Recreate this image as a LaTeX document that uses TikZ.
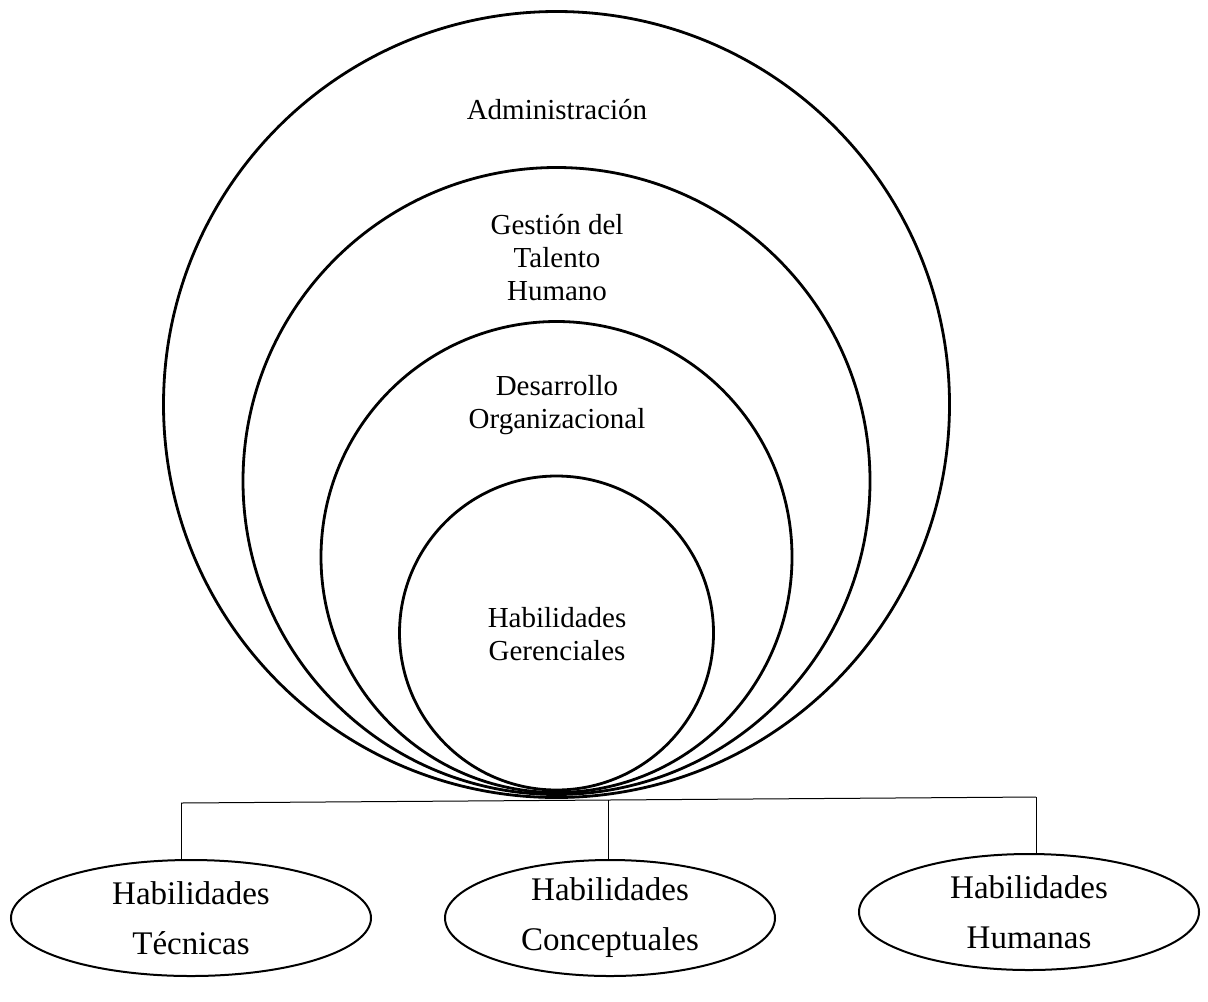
\documentclass[tikz,border=0pt]{standalone}
\usepackage{fontspec}
\setmainfont{Liberation Serif}
\usetikzlibrary{shapes.geometric,positioning}

\begin{document}
\begin{tikzpicture}[x=0.5pt,y=-0.5pt,
  ring/.style={draw,circle,line width=1.4pt,inner sep=0pt},
  txt/.style={align=center,font=\fontsize{14.5}{16.5}\selectfont},
  skill/.style={draw,ellipse,line width=1pt,inner sep=0pt,align=center,
    minimum height=58pt,font=\fontsize{16.5}{25}\selectfont},
  link/.style={line width=0.5pt}]
 \useasboundingbox (0,0) rectangle (1208,1001);
 % nested circles
 \node[ring,minimum size=393pt] (adm) at (556.5,404.5) {};
 \node[ring,minimum size=313.5pt] (gth) at (556.5,481) {};
 \node[ring,minimum size=235.5pt] (dor) at (556.5,557) {};
 \node[ring,minimum size=157pt] (hge) at (556.5,633) {};
 \node[txt] (admt) at (557,110) {Administración};
 \node[txt] (gtht) at (557,258) {Gestión del\\Talento\\Humano};
 \node[txt] (dort) at (557,405) {Desarrollo\\Organizacional};
 \node[txt] (hget) at (557,634) {Habilidades\\Gerenciales};
 % skills
 \node[skill,minimum width=180pt] (tec) at (191,918) {Habilidades\\Técnicas};
 \node[skill,minimum width=165pt] (con) at (610,918) {Habilidades\\Conceptuales};
 \node[skill,minimum width=170pt] (hum) at (1029,912) {Habilidades\\Humanas};
 \coordinate (jl) at (181,803);
 \coordinate (jm) at (608,800);
 \coordinate (jr) at (1036,797);
 \draw[link] (jl) -- (jr);
 \draw[link] (jl) -- (jl |- tec.north);
 \draw[link] (jm) -- (jm |- con.north);
 \draw[link] (jr) -- (jr |- hum.north);
\end{tikzpicture}
\end{document}
